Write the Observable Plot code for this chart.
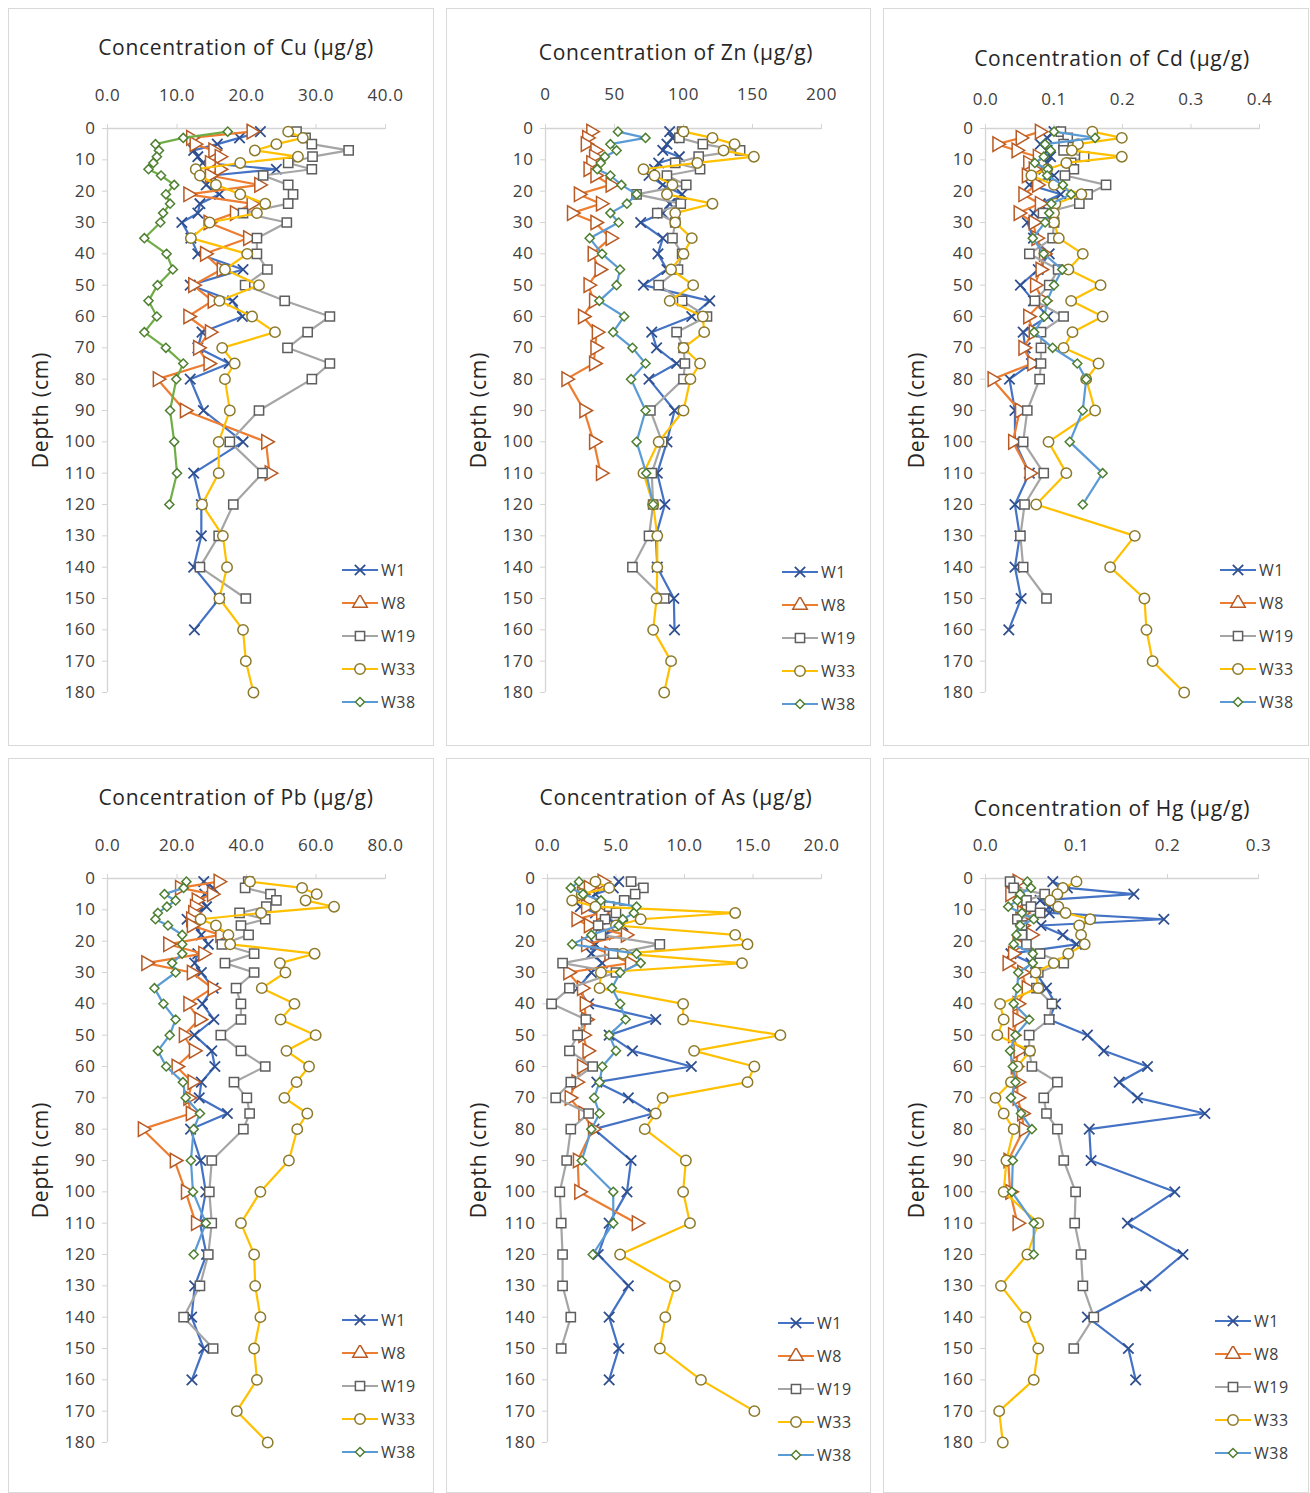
<!DOCTYPE html>
<html><head><meta charset="utf-8">
<script src="https://cdn.jsdelivr.net/npm/d3@7"></script>
<script src="https://cdn.jsdelivr.net/npm/@observablehq/plot@0.6"></script>
<style>
body{margin:0;background:#fff;font-family:"Open Sans",sans-serif;}
#root{position:relative;width:1310px;height:1493px;overflow:hidden;}
.box{position:absolute;border:1px solid #d9d9d9;box-sizing:border-box;}
.title{position:absolute;font-size:21px;letter-spacing:0.7px;color:#262626;white-space:nowrap;transform:translate(-50%,-50%);}
.ylab{position:absolute;font-size:21px;letter-spacing:0.9px;color:#262626;white-space:nowrap;transform:translate(-50%,-50%) rotate(-90deg);}
.plot{position:absolute;}
.plot svg text{letter-spacing:0.6px;}
.leg{position:absolute;font-size:16px;letter-spacing:0.5px;color:#404040;display:flex;align-items:center;white-space:nowrap;transform:translateY(-50%);}
.leg svg{display:block;margin-right:1px;}
</style></head><body><div id="root"></div>
<script>
// ---- data ----
const depths = [1,3,5,7,9,11,13,15,18,21,24,27,30,35,40,45,50,55,60,65,70,75,80,90,100,110,120,130,140,150,160,170,180];
const depthTicks = [0,10,20,30,40,50,60,70,80,90,100,110,120,130,140,150,160,170,180];
const seriesNames = ["W1","W8","W19","W33","W38"];

const cu_W1 = [22,19.0,15.8,12.4,13.0,13.7,24.3,15.0,14.2,16.1,13.3,13.0,10.7,12.0,13.0,19.5,11.9,18.0,19.4,13.6,13.0,17.5,11.9,13.8,19.5,12.4,13.5,13.5,12.4,16.1,12.5];
const cu_W8 = [20.7,12,12.5,15.2,16.1,14.7,16.1,14.7,21.8,11.6,20.7,18.3,14.5,20.2,14.0,16.4,12.3,15.1,11.6,14.7,13.0,14.5,7.2,11.1,22.8,23.3];
const cu_W19 = [27.2,28.5,29.4,34.7,29.5,26,29.4,22.4,26,26.7,26,19.5,25.8,21.5,21.5,23,19.8,25.5,32,28.8,25.9,32,29.4,21.8,17.6,22.3,18.1,16,13.3,19.9];
const cu_W33 = [26,28.1,24.3,21.2,27.4,19.1,12.7,13.3,15.6,19.1,22.7,21.5,14.7,12,20.1,16.9,21.8,16.1,20.8,24.1,16.5,18.3,16.9,17.6,16,16,13.6,16.6,17.2,16.1,19.5,19.9,21];
const cu_W38 = [17.3,10.9,6.9,7.4,7.1,6.6,5.9,7.7,9.6,8.4,9.0,8.0,7.6,5.3,8.5,9.4,7.2,5.9,7.1,5.3,8.4,10.9,9.9,9.0,9.6,10.0,8.9];

const zn_W1 = [90,92,88,85,97,82,79,75,85,99,90,85,69,85,81.5,88,71,119,106,77,80.5,95,75,93.5,88,81,86.5,80,81,93,93.5];
const zn_W8 = [33,30,29,36,35,33,31,36,47,24,40,19,36,47,34,39,31,35,27,37,36,35,15,28,35,40];
const zn_W19 = [99,97,114,141,111,94,112,88,102,66,98,81,94,92,99,96,82,99,117,95,100,101,100,76,84.5,77,78,75,63,86];
const zn_W33 = [100,121,137,129,151,110,71,79,92,88,121,94,94,106,100,91,107,90,114,115,100,112,105,100,82,71,78,81,81,80.5,78,91,86];
const zn_W38 = [52.5,72.5,47,51.5,43,40,37.5,47,55,66,59,47,53,32,41,54,51.5,39,57,49,63,72.5,62,72.5,66,73,78];

const cd_W1 = [0.1,0.09,0.08,0.09,0.095,0.09,0.085,0.1,0.064,0.11,0.08,0.07,0.061,0.07,0.093,0.077,0.051,0.07,0.091,0.055,0.058,0.067,0.035,0.043,0.043,0.064,0.043,0.05,0.043,0.052,0.034];
const cd_W8 = [0.079,0.051,0.017,0.045,0.076,0.062,0.07,0.06,0.075,0.055,0.079,0.048,0.07,0.074,0.085,0.08,0.072,0.085,0.062,0.07,0.055,0.068,0.01,0.05,0.04,0.064];
const cd_W19 = [0.11,0.12,0.114,0.114,0.144,0.125,0.129,0.116,0.176,0.149,0.137,0.084,0.1,0.098,0.064,0.106,0.093,0.072,0.114,0.081,0.081,0.081,0.079,0.061,0.055,0.085,0.057,0.051,0.055,0.089];
const cd_W33 = [0.156,0.199,0.135,0.126,0.199,0.118,0.09,0.067,0.1,0.14,0.102,0.1,0.1,0.107,0.142,0.121,0.168,0.125,0.171,0.127,0.114,0.165,0.147,0.16,0.092,0.118,0.074,0.218,0.182,0.232,0.235,0.244,0.29];
const cd_W38 = [0.1,0.16,0.087,0.095,0.085,0.072,0.091,0.09,0.113,0.125,0.096,0.093,0.087,0.069,0.085,0.112,0.1,0.09,0.086,0.071,0.098,0.134,0.147,0.142,0.123,0.171,0.142];

const pb_W1 = [27.7,30.4,28,27,28.5,26,22.9,25,27,29,26,25.1,27,30.4,27.3,30.6,25,30,30.9,27,26.4,34.5,23.9,26.8,28.3,26.6,28.5,25.1,24.2,27.7,24.3];
const pb_W8 = [31.9,20.8,30,25.6,25.1,24.6,24,24.2,32.4,17.4,27.5,11.1,24.2,30.2,23.2,26.4,21.9,24.8,19.8,24.4,23.2,23.9,10.1,19.3,22.5,25.4];
const pb_W19 = [40.5,39.6,46.9,48.6,45.7,38,45.4,38.4,40.6,32.9,42.2,33.8,42.2,37,38.4,38.4,32.6,38.4,45.4,36.4,40.1,40.9,39.1,30,29.3,30,29,26.6,21.9,30.4];
const pb_W33 = [41,56,60.2,57,65.2,44.2,26.8,31.2,34.8,35.3,59.6,49.6,51.2,44.4,53.8,49.8,59.9,51.5,58,54.4,50.9,57.5,54.6,52.2,44,38.4,42.2,42.5,44,42.2,43,37.2,46.1];
const pb_W38 = [22.7,21.9,16.4,19.6,17.1,14.5,13.8,17.4,21.5,21.5,21.5,18.6,19.6,13.5,16.1,19.6,17.9,14.5,16.9,21.7,22.5,26.6,24.8,24,24.6,28.3,24.8];

const as_W1 = [5.2,4.8,3.5,3.0,2.4,3.5,4.5,5.5,4.2,3.5,3.2,4.0,3.2,2.2,3.0,7.9,4.5,6.2,10.5,3.6,5.9,7.7,3.4,6.1,5.8,4.5,3.7,5.9,4.5,5.2,4.5];
const as_W8 = [4.0,3.0,2.5,3.0,2.8,3.9,2.1,3.0,5.7,2.8,4.5,6.0,1.5,2.5,2.7,2.8,2.6,2.9,2.5,2.1,1.6,2.6,3.3,2.2,2.3,6.5];
const as_W19 = [6.1,7.0,6.4,5.6,4.5,5.0,4.2,3.7,3.9,8.2,4.8,1.1,5.0,1.6,0.3,2.8,2.2,1.6,3.3,1.7,0.6,3.0,1.7,1.4,0.9,1.0,1.1,1.1,1.7,1.0];
const as_W33 = [3.5,4.5,2.5,1.8,3.5,13.7,6.8,5.0,13.7,14.6,5.5,14.2,3.9,3.8,9.9,9.9,17,10.7,15.1,14.6,8.4,7.9,7.1,10.1,9.9,10.4,5.3,9.3,8.6,8.2,11.2,15.1];
const as_W38 = [2.3,1.7,2.6,3.9,6.5,6.3,5.5,5.2,3.2,1.8,6.5,6.8,5.3,4.7,5.3,5.7,4.5,5.0,4.0,3.8,3.4,3.8,3.2,2.5,4.8,4.8,3.3];

const hg_W1 = [0.074,0.09,0.163,0.06,0.07,0.07,0.196,0.061,0.085,0.1,0.028,0.05,0.055,0.067,0.077,0.07,0.112,0.13,0.178,0.147,0.167,0.241,0.114,0.116,0.208,0.156,0.217,0.176,0.112,0.157,0.165];
const hg_W8 = [0.035,0.03,0.027,0.04,0.045,0.04,0.038,0.04,0.05,0.035,0.03,0.024,0.04,0.045,0.035,0.035,0.03,0.036,0.033,0.035,0.035,0.04,0.042,0.025,0.027,0.035];
const hg_W19 = [0.027,0.031,0.065,0.045,0.05,0.06,0.035,0.04,0.04,0.045,0.06,0.086,0.058,0.056,0.073,0.07,0.048,0.048,0.051,0.079,0.064,0.067,0.079,0.086,0.099,0.098,0.105,0.107,0.119,0.097];
const hg_W33 = [0.1,0.085,0.079,0.071,0.08,0.088,0.115,0.103,0.105,0.109,0.091,0.075,0.055,0.058,0.016,0.02,0.013,0.049,0.035,0.028,0.011,0.02,0.031,0.023,0.02,0.058,0.046,0.017,0.044,0.058,0.053,0.015,0.019];
const hg_W38 = [0.046,0.05,0.038,0.035,0.025,0.04,0.053,0.038,0.034,0.031,0.052,0.052,0.036,0.035,0.031,0.048,0.033,0.027,0.03,0.033,0.028,0.039,0.051,0.03,0.029,0.053,0.053];

const cuTicks = [0,10,20,30,40];
const znTicks = [0,50,100,150,200];
const cdTicks = [0,0.1,0.2,0.3,0.4];
const pbTicks = [0,20,40,60,80];
const asTicks = [0,5,10,15,20];
const hgTicks = [0,0.1,0.2,0.3];

// ---- styles / layout ----
const styles = {
  W1:  {line:"#4472C4", mark:"#2F4F8F", symbol:"times",   r:4.8, rotate:0},
  W8:  {line:"#ED7D31", mark:"#B85A24", symbol:"triangle",r:5.4, rotate:90},
  W19: {line:"#A5A5A5", mark:"#5E5E5E", symbol:"square",  r:5.2, rotate:0},
  W33: {line:"#FFC000", mark:"#8C7A2A", symbol:"circle",  r:5.2, rotate:0},
  W38: {line:"#5B9BD5", mark:"#4E7F30", symbol:"diamond2",r:4.1, rotate:0}
};
const panels = [
  {key:"Cu", title:"Concentration of Cu (µg/g)", values:[cu_W1,cu_W8,cu_W19,cu_W33,cu_W38], ticks:cuTicks, fmt:".1f",
   box:[8,8,426,738], svgTop:70, mL:99, mR:49, tickPad:23, titleXY:[236,47], ylabXY:[40,410], leg:[340,570]},
  {key:"Zn", title:"Concentration of Zn (µg/g)", values:[zn_W1,zn_W8,zn_W19,zn_W33,zn_W38], ticks:znTicks, fmt:"d",
   box:[446,8,425,738], svgTop:70, mL:99, mR:50, tickPad:24, titleXY:[676,52], ylabXY:[478,410], leg:[780,572]},
  {key:"Cd", title:"Concentration of Cd (µg/g)", values:[cd_W1,cd_W8,cd_W19,cd_W33,cd_W38], ticks:cdTicks, fmt:".1f",
   box:[883,8,426,738], svgTop:70, mL:102, mR:50, tickPad:19, titleXY:[1112,58], ylabXY:[916,410], leg:[1218,570]},
  {key:"Pb", title:"Concentration of Pb (µg/g)", values:[pb_W1,pb_W8,pb_W19,pb_W33,pb_W38], ticks:pbTicks, fmt:".1f",
   box:[8,758,426,735], svgTop:820, mL:99, mR:49, tickPad:23, titleXY:[236,797], ylabXY:[40,1160], leg:[340,1320]},
  {key:"As", title:"Concentration of As (µg/g)", values:[as_W1,as_W8,as_W19,as_W33,as_W38], ticks:asTicks, fmt:".1f",
   box:[446,758,425,735], svgTop:820, mL:101, mR:50, tickPad:23, titleXY:[676,797], ylabXY:[478,1160], leg:[776,1323]},
  {key:"Hg", title:"Concentration of Hg (µg/g)", values:[hg_W1,hg_W8,hg_W19,hg_W33,hg_W38], ticks:hgTicks, fmt:".1f",
   box:[883,758,426,735], svgTop:820, mL:102, mR:51, tickPad:23, titleXY:[1112,808], ylabXY:[916,1160], leg:[1213,1321]}
];

const root = document.getElementById("root");
function el(cls, css, html){ const d=document.createElement("div"); d.className=cls; Object.assign(d.style, css); if(html!=null) d.innerHTML=html; root.appendChild(d); return d; }

function symbolPath(name, r){
  const map = {times:d3.symbolTimes, triangle:d3.symbolTriangle, square:d3.symbolSquare, circle:d3.symbolCircle, diamond2:d3.symbolDiamond2};
  return d3.symbol(map[name], r*r*Math.PI)();
}

panels.forEach(p => {
  const [bx,by,bw,bh] = p.box;
  el("box", {left:bx+"px", top:by+"px", width:bw+"px", height:bh+"px"});
  el("title", {left:p.titleXY[0]+"px", top:p.titleXY[1]+"px"}, p.title);
  el("ylab", {left:p.ylabXY[0]+"px", top:p.ylabXY[1]+"px"}, "Depth (cm)");

  const H = 660;
  const marks = [
    Plot.ruleY([0], {stroke:"#d4d4d4", strokeWidth:1.3}),
    Plot.ruleX([0], {stroke:"#d4d4d4", strokeWidth:1.3}),
    Plot.axisX({anchor:"top", ticks:p.ticks, tickFormat:d3.format(p.fmt), tickSize:5, tickPadding:p.tickPad, stroke:"#d4d4d4", fill:"#404040", fontSize:17, label:null}),
    Plot.axisY({anchor:"left", ticks:depthTicks, tickSize:5, tickPadding:7, stroke:"#d4d4d4", fill:"#404040", fontSize:17, label:null})
  ];
  seriesNames.forEach((s,k) => {
    const st = styles[s];
    const rows = p.values[k].map((v,i) => ({series:s, depth:depths[i], value:v}));
    const lineColor = (p.key==="Cu" && s==="W38") ? "#70AD47" : st.line;
    marks.push(Plot.line(rows, {x:"value", y:"depth", stroke:lineColor, strokeWidth:2.2}));
    marks.push(Plot.dot(rows, {x:"value", y:"depth", symbol:st.symbol, r:st.r,
      fill: st.symbol==="times" ? "none" : "white", stroke:st.mark, strokeWidth: st.symbol==="times"?1.8:1.5, rotate:st.rotate}));
  });
  const chart = Plot.plot({
    width: bw, height: H,
    marginLeft: p.mL, marginRight: p.mR, marginTop: 58, marginBottom: 38,
    x: {domain:[p.ticks[0], p.ticks[p.ticks.length-1]]},
    y: {domain:[0,180], reverse:true},
    style: {fontFamily:"'Open Sans', sans-serif", background:"transparent", overflow:"visible"},
    marks
  });
  const holder = el("plot", {left:bx+"px", top:p.svgTop+"px"});
  holder.appendChild(chart);

  // legend
  seriesNames.forEach((s,k) => {
    const st = styles[s];
    const svg = `<svg width="40" height="16"><line x1="2" x2="38" y1="8" y2="8" stroke="${st.line}" stroke-width="2.2"/>` +
      `<path d="${symbolPath(st.symbol, st.r)}" transform="translate(20,8)" fill="${st.symbol==="times"?"none":"white"}" stroke="${st.mark}" stroke-width="${st.symbol==="times"?1.8:1.5}"/></svg>`;
    el("leg", {left:p.leg[0]+"px", top:(p.leg[1] + k*33)+"px"}, svg + `<span>${s}</span>`);
  });
});
</script></body></html>
